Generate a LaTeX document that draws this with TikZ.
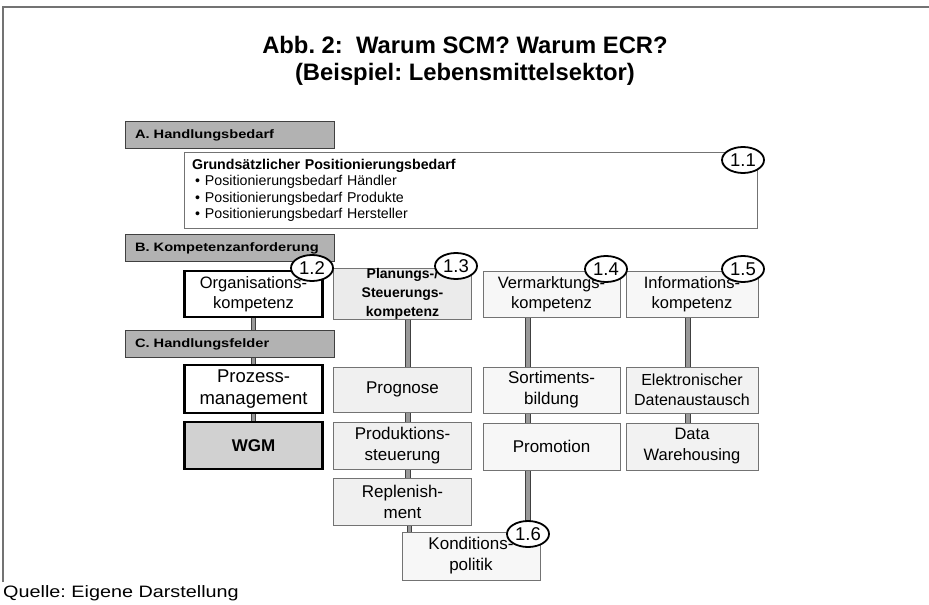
\documentclass[tikz,border=0pt]{standalone}
\usepackage{fontspec}
\setmainfont{Liberation Sans}
\newfontfamily\widefont[FakeStretch=1.2]{Liberation Sans}
\usetikzlibrary{shapes.geometric,backgrounds}
\frenchspacing
\begin{document}
\begin{tikzpicture}[x=1pt,y=-1pt,
  hdr/.style={draw=black!75, line width=1pt, fill=black!30, minimum height=27pt,
    minimum width=209pt, text width=189pt, align=left, inner sep=0pt,
    font=\widefont\fontsize{12.2}{14}\selectfont\bfseries},
  heavy/.style={draw=black, line width=2.2pt, fill=white, inner sep=0pt, align=center,
    minimum width=138pt, minimum height=46pt},
  light/.style={draw=black!55, line width=0.9pt, fill=black!6, inner sep=0pt, align=center,
    minimum width=138pt, minimum height=46pt},
  num/.style={ellipse, draw=black, line width=1.8pt, fill=white, inner sep=0pt,
    minimum width=42pt, minimum height=26pt, font=\fontsize{18.5}{18}\selectfont},
  conn/.style={draw=black!75, line width=1pt, double=black!40, double distance=3.5pt},
  txt/.style={font=\fontsize{16.5}{20}\selectfont},
]
\useasboundingbox (0,0) rectangle (929,605);
\begin{scope}[on background layer]
\fill[white] (0,0) rectangle (929,605);
\end{scope}
\draw[black!55, line width=1.2pt] (3,582) -- (3,7) -- (929,7);

% title
\node[font=\fontsize{23.8}{27}\selectfont\bfseries, align=center] (title) at (465,61)
  {Abb. 2:\ \ Warum SCM? Warum ECR?\\(Beispiel: Lebensmittelsektor)};

% section A
\node[hdr] (hA) at (229.5,135) {A. Handlungsbedarf};
\node[draw=black!55, line width=0.9pt, fill=white, minimum width=573pt, minimum height=76pt,
  text width=557pt, align=left, inner sep=0pt, font=\fontsize{14.2}{16.5}\selectfont]
  (b11) at (470.5,190.5)
  {\textbf{Grundsätzlicher Positionierungsbedarf}\\
   \hspace*{3pt}\textbullet\hspace{5pt}Positionierungsbedarf Händler\\
   \hspace*{3pt}\textbullet\hspace{5pt}Positionierungsbedarf Produkte\\
   \hspace*{3pt}\textbullet\hspace{5pt}Positionierungsbedarf Hersteller};
\node[num] (e11) at (743,160) {1.1};

% section B
\node[hdr] (hB) at (229.5,248) {B. Kompetenzanforderung};
\node[heavy, txt] (org) at (253.5,294) {Organisations-\\kompetenz};
\node[light, fill=black!8, font=\fontsize{14}{19}\selectfont\bfseries] (plan) at (402.5,294)
  {Planungs-/\\Steuerungs-\\kompetenz};
\node[light, fill=black!3, txt, minimum width=137pt] (verm) at (551.5,294.5) {Vermarktungs-\\kompetenz};
\node[light, fill=black!3, txt, minimum width=132pt] (info) at (692,294.5) {Informations-\\kompetenz};
\node[num] (e12) at (312,268) {1.2};
\node[num] (e13) at (456,266) {1.3};
\node[num] (e14) at (606,269) {1.4};
\node[num] (e15) at (743,269) {1.5};

% section C
\node[hdr] (hC) at (229.5,344) {C. Handlungsfelder};
\node[heavy, font=\fontsize{18.5}{22}\selectfont, minimum height=48pt] (proz) at (253.5,389) {Prozess-\\management};
\node[heavy, fill=black!18, font=\fontsize{17}{20}\selectfont\bfseries, minimum height=47pt] (wgm) at (253.5,445.5) {WGM};
\node[light, font=\fontsize{17}{21}\selectfont, minimum height=45pt] (prog) at (402.5,389.5) {Prognose};
\node[light, font=\fontsize{17}{21}\selectfont, minimum height=47pt] (prod) at (402.5,445.5) {Produktions-\\steuerung};
\node[light, font=\fontsize{17}{21}\selectfont, minimum height=47pt] (repl) at (402.5,501.5) {Replenish-\\ment};
\node[light, fill=black!3, font=\fontsize{17}{21}\selectfont, minimum height=48pt] (kond) at (471,556) {Konditions-\\politik};
\node[num] (e16) at (528,534) {1.6};
\node[light, fill=black!3, minimum width=137pt, font=\fontsize{17}{21}\selectfont] (sort) at (551.5,390) {Sortiments-\\bildung};
\node[light, fill=black!3, minimum width=137pt, font=\fontsize{17}{21}\selectfont, minimum height=47pt] (prom) at (551.5,446.5) {Promotion};
\node[light, fill=black!5, font=\fontsize{16}{20}\selectfont, minimum width=132pt] (elek) at (692,390) {Elektronischer\\Datenaustausch};
\node[light, fill=black!5, font=\fontsize{16.5}{21}\selectfont, minimum width=132pt, minimum height=47pt] (data) at (692,446.5) {Data\\Warehousing};

% source
\node[anchor=base west, inner sep=0pt, font=\widefont\fontsize{16.5}{20}\selectfont] (src) at (3,597) {Quelle: Eigene Darstellung};

% connectors
\coordinate (p1) at ([xshift=5.5pt]plan.south);
\coordinate (r1) at ([xshift=7pt]repl.south);
\coordinate (v1) at ([xshift=-23.5pt]verm.south);
\coordinate (i1) at ([xshift=-4pt]info.south);
\begin{scope}[on background layer]
\draw[conn] (org.south) -- (proz.north);
\draw[conn] (proz.south) -- (wgm.north);
\draw[conn] (p1) -- (p1 |- prog.north);
\draw[conn] (p1 |- prog.south) -- (p1 |- prod.north);
\draw[conn] (p1 |- prod.south) -- (p1 |- repl.north);
\draw[conn] (r1) -- (r1 |- kond.north);
\draw[conn] (v1) -- (v1 |- sort.north);
\draw[conn] (v1 |- sort.south) -- (v1 |- prom.north);
\draw[conn] (v1 |- prom.south) -- (v1 |- kond.north);
\draw[conn] (i1) -- (i1 |- elek.north);
\draw[conn] (i1 |- elek.south) -- (i1 |- data.north);
\end{scope}
\end{tikzpicture}
\end{document}
